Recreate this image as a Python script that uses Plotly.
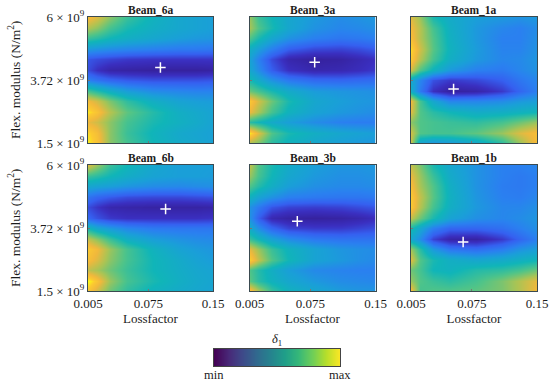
import plotly.graph_objects as go

W, H = 550, 382
lossfactor = [0.005, 0.015, 0.03, 0.05, 0.08, 0.11, 0.13, 0.15]
modulus = [6.0, 5.625, 5.25, 4.875, 4.5, 4.125, 3.75, 3.375, 3.0, 2.625, 2.25, 1.875, 1.5]

beam_6a = [
 [.88,.82,.70,.58,.48,.42,.40,.38],
 [.75,.70,.60,.52,.46,.42,.40,.38],
 [.58,.55,.50,.46,.42,.38,.36,.35],
 [.36,.34,.32,.30,.28,.26,.26,.25],
 [.16,.14,.12,.10,.09,.09,.09,.09],
 [.14,.08,.03,.02,.01,.01,.01,.02],
 [.28,.24,.20,.17,.15,.15,.15,.16],
 [.60,.54,.46,.38,.32,.30,.29,.29],
 [.86,.80,.68,.56,.46,.40,.38,.37],
 [.97,.90,.76,.64,.54,.46,.43,.40],
 [.84,.80,.70,.60,.52,.47,.44,.40],
 [.95,.88,.70,.58,.49,.43,.41,.39],
 [.98,.90,.70,.60,.50,.44,.42,.39],
]
beam_3a = [
 [.72,.58,.50,.42,.36,.32,.34,.36],
 [.74,.62,.52,.42,.34,.30,.31,.33],
 [.62,.52,.42,.34,.28,.25,.26,.28],
 [.46,.38,.28,.18,.13,.12,.14,.17],
 [.40,.28,.14,.04,.01,.02,.05,.08],
 [.42,.32,.18,.08,.04,.05,.07,.10],
 [.52,.44,.34,.26,.21,.20,.21,.22],
 [.66,.60,.52,.44,.37,.35,.34,.33],
 [.92,.80,.66,.52,.42,.38,.36,.35],
 [.85,.74,.60,.48,.40,.36,.34,.32],
 [.55,.50,.44,.38,.32,.28,.27,.27],
 [.98,.82,.62,.52,.46,.42,.40,.38],
 [.75,.68,.55,.48,.42,.38,.36,.35],
]
beam_1a = [
 [.82,.72,.52,.44,.38,.36,.34,.36],
 [.86,.76,.60,.46,.36,.30,.28,.32],
 [.88,.76,.62,.47,.36,.28,.28,.33],
 [.95,.80,.63,.48,.37,.29,.29,.34],
 [.92,.76,.60,.46,.36,.30,.31,.35],
 [.80,.62,.48,.36,.28,.26,.30,.34],
 [.42,.30,.15,.10,.13,.18,.25,.30],
 [.45,.26,.08,.01,.03,.10,.20,.28],
 [.85,.60,.42,.30,.30,.32,.36,.38],
 [.82,.62,.55,.50,.45,.46,.48,.50],
 [.70,.62,.60,.58,.56,.60,.66,.72],
 [.80,.62,.60,.60,.64,.72,.82,.88],
 [.78,.40,.34,.36,.42,.55,.72,.88],
]
beam_6b = [
 [.82,.72,.58,.50,.42,.38,.38,.38],
 [.58,.55,.50,.45,.40,.38,.38,.37],
 [.42,.40,.38,.35,.32,.31,.32,.33],
 [.24,.20,.17,.14,.13,.13,.14,.15],
 [.14,.09,.04,.03,.02,.02,.02,.03],
 [.20,.15,.10,.08,.08,.08,.08,.09],
 [.50,.42,.36,.30,.26,.25,.25,.25],
 [.78,.70,.58,.46,.38,.34,.32,.31],
 [.92,.86,.72,.60,.48,.40,.37,.35],
 [.88,.82,.70,.60,.50,.44,.40,.37],
 [.78,.74,.66,.58,.50,.45,.42,.40],
 [1.0,.90,.72,.60,.52,.46,.43,.41],
 [.90,.80,.66,.56,.48,.44,.42,.40],
]
beam_3b = [
 [.78,.62,.52,.44,.38,.35,.35,.36],
 [.72,.60,.50,.42,.36,.33,.33,.34],
 [.62,.54,.46,.38,.33,.31,.31,.32],
 [.48,.40,.34,.28,.26,.25,.25,.26],
 [.34,.26,.16,.12,.11,.12,.14,.16],
 [.34,.18,.05,.02,.01,.02,.04,.07],
 [.44,.32,.20,.12,.10,.10,.12,.14],
 [.58,.50,.40,.32,.26,.24,.24,.24],
 [.84,.72,.58,.48,.40,.35,.33,.32],
 [.94,.78,.62,.50,.40,.36,.33,.31],
 [.62,.54,.46,.38,.31,.29,.28,.28],
 [.64,.55,.48,.42,.36,.32,.31,.30],
 [.92,.75,.58,.48,.42,.37,.35,.35],
]
beam_1b = [
 [.78,.68,.52,.42,.34,.28,.28,.30],
 [.84,.72,.58,.44,.34,.28,.26,.28],
 [.88,.74,.62,.46,.34,.27,.26,.28],
 [.92,.78,.63,.47,.35,.28,.27,.30],
 [.92,.76,.60,.46,.36,.30,.30,.33],
 [.78,.66,.52,.40,.33,.30,.32,.35],
 [.52,.42,.28,.20,.20,.23,.28,.33],
 [.42,.32,.12,.03,.02,.10,.20,.28],
 [.72,.55,.36,.25,.22,.27,.34,.38],
 [.82,.62,.52,.46,.42,.44,.47,.50],
 [.66,.60,.50,.48,.54,.56,.60,.66],
 [.72,.62,.58,.55,.60,.68,.76,.84],
 [.88,.60,.62,.62,.64,.68,.76,.86],
]
titles = ["Beam_6a", "Beam_3a", "Beam_1a", "Beam_6b", "Beam_3b", "Beam_1b"]
fields = [beam_6a, beam_3a, beam_1a, beam_6b, beam_3b, beam_1b]
opt_loss = [0.089, 0.080, 0.054, 0.095, 0.060, 0.065]
opt_mod = [4.20, 4.38, 3.43, 4.43, 3.99, 3.25]
x_ticks = [0.005, 0.075, 0.15]
x_tick_text = ["0.005", "0.075", "0.15"]
y_ticks = [1.5, 3.72, 6.0]
y_tick_text = ["1.5 × 10<sup>9</sup>", "3.72 × 10<sup>9</sup>", "6 × 10<sup>9</sup>"]
bar_levels = [0, .1, .2, .3, .4, .5, .6, .7, .8, .9, 1]
bar_ends = ["min", "max"]

parula = [[0, "#35209a"], [.08, "#3a2fc0"], [.18, "#3560f0"], [.28, "#2a80f0"],
          [.38, "#1a9fd8"], [.5, "#10b5b8"], [.62, "#50c488"], [.74, "#a8c455"],
          [.85, "#f0b83c"], [.93, "#fcca30"], [1, "#f9fb14"]]

FONT = "Liberation Serif"
INK = "#1c1c1c"
cols = [(88, 213), (249.5, 375.5), (411, 537)]
rows = [(17, 143), (165, 291)]
fig = go.Figure()
for i in range(6):
    c, r = i % 3, i // 3
    ax = "" if i == 0 else str(i + 1)
    fig.add_trace(go.Heatmap(x=lossfactor, y=modulus, z=fields[i], zmin=0, zmax=1, zsmooth="best",
                             colorscale=parula, showscale=False, xaxis="x" + ax, yaxis="y" + ax))
    fig.add_trace(go.Scatter(x=[opt_loss[i]], y=[opt_mod[i]], mode="markers", showlegend=False,
                             marker=dict(symbol="cross-thin", size=7.5, line=dict(color="white", width=1.5)),
                             xaxis="x" + ax, yaxis="y" + ax))
    xl = cols[c]; yl = rows[r]
    common = dict(showline=True, mirror=True, linecolor="#3a4a50", linewidth=1, showgrid=False,
                  zeroline=False, ticks="inside", ticklen=2, tickcolor="#777777", tickwidth=0.5, automargin=False,
                  tickfont=dict(family=FONT, size=13, color=INK))
    xa = dict(common, domain=[xl[0] / W, xl[1] / W], range=[0.005, 0.15], anchor="y" + ax,
              tickvals=x_ticks, ticktext=x_tick_text, showticklabels=(r == 1))
    if r == 1:
        xa["title"] = dict(text="Lossfactor", font=dict(family=FONT, size=13, color=INK), standoff=2)
    ya = dict(common, domain=[1 - yl[1] / H, 1 - yl[0] / H], range=[1.5, 6], anchor="x" + ax,
              tickvals=y_ticks, ticktext=y_tick_text, showticklabels=(c == 0))
    fig.update_layout({"xaxis" + ax: xa, "yaxis" + ax: ya})
    fig.add_annotation(x=(xl[0] + xl[1]) / 2 / W, y=1 - (yl[0] + 1) / H, xref="paper", yref="paper",
                       text="<b>%s</b>" % titles[i], showarrow=False, xanchor="center", yanchor="bottom",
                       font=dict(family=FONT, size=11.5, color=INK))
    if c == 0:
        fig.add_annotation(x=14 / W, y=1 - (yl[0] + yl[1]) / 2 / H, xref="paper", yref="paper", textangle=-90,
                           text="Flex. modulus (N/m<sup>2</sup>)", showarrow=False, xanchor="center", yanchor="middle",
                           font=dict(family=FONT, size=13.5, color=INK))

fig.add_trace(go.Heatmap(x=bar_levels, y=[0, 1], z=[bar_levels, bar_levels], colorscale="Viridis",
                         zsmooth="best", showscale=False, xaxis="x7", yaxis="y7"))
fig.update_layout(
    xaxis7=dict(domain=[214 / W, 340 / W], range=[0, 1], anchor="y7", showticklabels=False,
                ticks="", showline=True, mirror=True, linecolor="#444444", linewidth=1, showgrid=False, zeroline=False,
                automargin=False),
    yaxis7=dict(domain=[1 - 366 / H, 1 - 349 / H], range=[0, 1], anchor="x7", showticklabels=False, ticks="",
                showline=True, mirror=True, linecolor="#444444", linewidth=1, showgrid=False, zeroline=False, automargin=False),
    width=W, height=H, margin=dict(l=0, r=0, t=0, b=0), paper_bgcolor="white", plot_bgcolor="white",
    showlegend=False,
)
for px, label in zip((214, 340), bar_ends):
    fig.add_annotation(x=px / W, y=1 - 374.5 / H, xref="paper", yref="paper", text=label, showarrow=False,
                       xanchor="center", yanchor="middle", font=dict(family=FONT, size=12.5, color=INK))
fig.add_annotation(x=277 / W, y=1 - 350 / H, xref="paper", yref="paper", text="<i>δ</i><sub>1</sub>", showarrow=False,
                   xanchor="center", yanchor="bottom", font=dict(family=FONT, size=12.5, color=INK))
fig.write_html("out.html", config={"displayModeBar": False},
               post_script="document.body.style.margin='0';document.body.style.overflow='hidden';")
